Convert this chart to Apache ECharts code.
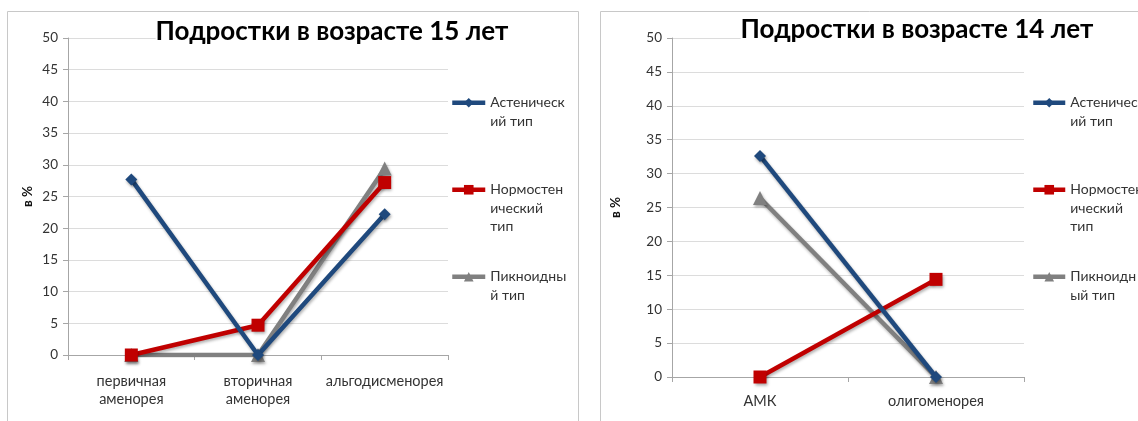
<!DOCTYPE html>
<html>
<head>
<meta charset="utf-8">
<script src="https://cdn.jsdelivr.net/npm/echarts@6/dist/echarts.min.js"></script>
<style>
  html, body { margin: 0; padding: 0; background: #fff; }
  #chart { width: 1138px; height: 421px; }
</style>
</head>
<body>
<div id="chart"></div>
<script>
// Categories of each panel
const cats15 = ['первичная\nаменорея', 'вторичная\nаменорея', 'альгодисменорея'];
const cats14 = ['АМК', 'олигоменорея'];

// Series names
const seriesNames = ['Астенический тип', 'Нормостенический тип', 'Пикноидный тип'];

// Values, % (15-year-olds)
const asthenic15 = [27.7, 0, 22.2];
const normo15 = [0, 4.7, 27.2];
const pykn15 = [0, 0, 29.4];

// Values, % (14-year-olds)
const asthenic14 = [32.6, 0];
const normo14 = [0, 14.4];
const pykn14 = [26.4, 0];

// Wrapped legend labels for each panel
const legend15 = ['Астеническ\nий тип', 'Нормостен\nический\nтип', 'Пикноидны\nй тип'];
const legend14 = ['Астеническ\nий тип', 'Нормостен\nический\nтип', 'Пикноидн\nый тип'];

const FONT = 'Lato, "Open Sans", sans-serif';
const colors = ['#1F497D', '#C00000', '#808080'];
const symbols = ['diamond', 'rect', 'triangle'];
const symbolSizes = [12, 13, 14];
const LH = 18.5;

const chart = echarts.init(document.getElementById('chart'), null, { renderer: 'canvas' });

function yAxis(gridIndex, nameGap) {
  return {
    type: 'value', gridIndex, min: 0, max: 50, interval: 5,
    name: 'в %', nameLocation: 'middle', nameGap, nameRotate: 90,
    nameTextStyle: { fontFamily: FONT, fontSize: 13.5, fontWeight: 'bold', color: '#111' },
    axisLine: { show: true, lineStyle: { color: '#A6A6A6', width: 1 } },
    axisTick: { show: true, length: 5, lineStyle: { color: '#A6A6A6' } },
    axisLabel: { fontFamily: FONT, fontSize: 13.5, color: '#333', margin: 10 },
    splitLine: { show: true, lineStyle: { color: '#DCDCDC', width: 1 } }
  };
}

function xAxis(gridIndex, data, margin) {
  return {
    type: 'category', gridIndex, data, boundaryGap: true,
    axisLine: { show: true, lineStyle: { color: '#A6A6A6', width: 1 } },
    axisTick: { show: true, length: 5, alignWithLabel: false, lineStyle: { color: '#A6A6A6' } },
    axisLabel: { fontFamily: FONT, fontSize: 14.5, color: '#333', margin, lineHeight: 18, interval: 0 }
  };
}

function lineSeries(i, data, xi) {
  return {
    type: 'line', name: seriesNames[i], xAxisIndex: xi, yAxisIndex: xi, data,
    symbol: symbols[i], symbolSize: symbolSizes[i], showAllSymbol: true,
    itemStyle: { color: colors[i], shadowColor: 'rgba(0,0,0,0.35)', shadowBlur: 3, shadowOffsetX: 1, shadowOffsetY: 2 },
    lineStyle: { color: colors[i], width: 4.5, shadowColor: 'rgba(0,0,0,0.3)', shadowBlur: 3, shadowOffsetX: 1, shadowOffsetY: 2 },
    emphasis: { disabled: true },
    animation: false,
    z: 3 + (2 - i)
  };
}

// Leading blank lines keep the first text line level with the legend icon
function legend(left, itemWidth, labels) {
  return {
    left, top: 75, orient: 'vertical', padding: 0,
    itemWidth, itemHeight: 12, itemGap: 13,
    selectedMode: false,
    data: seriesNames,
    lineStyle: { width: 4.5 },
    formatter: (name) => {
      const lab = labels[seriesNames.indexOf(name)];
      const n = lab.split('\n').length;
      return '\n'.repeat(n - 1) + lab;
    },
    textStyle: { fontFamily: FONT, fontSize: 14, color: '#333', lineHeight: LH }
  };
}

chart.setOption({
  backgroundColor: '#fff',
  animation: false,
  graphic: [
    { type: 'rect', shape: { x: 7.5, y: 11.5, width: 571, height: 420 }, style: { fill: 'none', stroke: '#C8C8C8', lineWidth: 1 }, z: -10 },
    { type: 'rect', shape: { x: 600.5, y: 11.5, width: 560, height: 420 }, style: { fill: 'none', stroke: '#C8C8C8', lineWidth: 1 }, z: -10 }
  ],
  title: [
    { text: 'Подростки в возрасте 15 лет', left: 332, top: 18, textAlign: 'center',
      backgroundColor: '#fff', padding: [1, 0, 1, 0],
      textStyle: { fontFamily: FONT, fontSize: 26, fontWeight: 'bold', color: '#000' } },
    { text: 'Подростки в возрасте 14 лет', left: 917, top: 16, textAlign: 'center',
      backgroundColor: '#fff', padding: [1, 0, 1, 0],
      textStyle: { fontFamily: FONT, fontSize: 26, fontWeight: 'bold', color: '#000' } }
  ],
  legend: [legend(450, 33, legend15), legend(1031, 32, legend14)],
  grid: [
    { left: 68, right: 1138 - 448, top: 38, bottom: 421 - 355, containLabel: false },
    { left: 672, right: 1138 - 1024, top: 38, bottom: 421 - 377, containLabel: false }
  ],
  xAxis: [xAxis(0, cats15, 17), xAxis(1, cats14, 15)],
  yAxis: [yAxis(0, 33), yAxis(1, 49)],
  series: [
    lineSeries(0, asthenic15, 0),
    lineSeries(1, normo15, 0),
    lineSeries(2, pykn15, 0),
    lineSeries(0, asthenic14, 1),
    lineSeries(1, normo14, 1),
    lineSeries(2, pykn14, 1)
  ]
});
</script>
</body>
</html>
